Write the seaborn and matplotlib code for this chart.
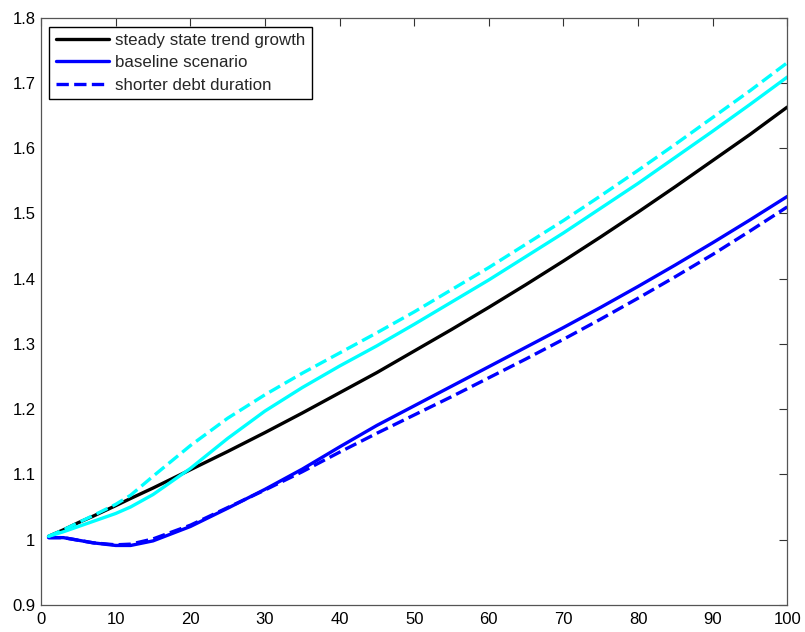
import matplotlib
matplotlib.use("Agg")
import matplotlib.pyplot as plt
import seaborn as sns

periods = [1, 3, 5, 7, 10, 12, 15, 20, 25, 30, 35, 40, 45, 50, 55, 60, 65, 70, 75, 80, 85, 90, 95, 100]

steady_state = [1.005, 1.015, 1.026, 1.036, 1.052, 1.063, 1.079, 1.107, 1.135, 1.164, 1.194, 1.225,
                1.256, 1.289, 1.322, 1.356, 1.391, 1.427, 1.464, 1.502, 1.541, 1.581, 1.621, 1.663]
baseline = [1.003, 1.003, 0.999, 0.995, 0.991, 0.991, 0.998, 1.020, 1.048, 1.077, 1.108, 1.142,
            1.175, 1.205, 1.235, 1.265, 1.295, 1.325, 1.356, 1.388, 1.421, 1.455, 1.490, 1.526]
shorter_duration = [1.003, 1.003, 0.999, 0.995, 0.992, 0.993, 1.001, 1.022, 1.049, 1.076, 1.104, 1.134,
                    1.163, 1.191, 1.219, 1.248, 1.277, 1.307, 1.338, 1.370, 1.403, 1.437, 1.473, 1.510]
baseline_alt = [1.005, 1.012, 1.020, 1.028, 1.040, 1.050, 1.069, 1.109, 1.155, 1.197, 1.233, 1.266,
                1.297, 1.330, 1.364, 1.398, 1.434, 1.470, 1.508, 1.546, 1.586, 1.626, 1.667, 1.709]
shorter_alt = [1.005, 1.015, 1.026, 1.037, 1.054, 1.068, 1.097, 1.144, 1.186, 1.222, 1.255, 1.286,
               1.317, 1.349, 1.383, 1.417, 1.453, 1.489, 1.527, 1.566, 1.606, 1.647, 1.688, 1.731]

legend_labels = ["steady state trend growth", "baseline scenario", "shorter debt duration"]
x_ticks = list(range(0, 101, 10))
y_ticks = [0.9, 1.0, 1.1, 1.2, 1.3, 1.4, 1.5, 1.6, 1.7, 1.8]
y_tick_labels = ["0.9", "1", "1.1", "1.2", "1.3", "1.4", "1.5", "1.6", "1.7", "1.8"]

sns.set_style("white")
plt.rcParams["font.family"] = ["Liberation Sans", "DejaVu Sans"]

fig = plt.figure(figsize=(8.05, 6.32), dpi=100)
ax = fig.add_axes([0.051, 0.043, 0.927, 0.929])

lw = 2.4
sns.lineplot(x=periods, y=steady_state, ax=ax, color="black", lw=lw, label=legend_labels[0])
sns.lineplot(x=periods, y=baseline, ax=ax, color="#0000ff", lw=lw, label=legend_labels[1])
sns.lineplot(x=periods, y=shorter_duration, ax=ax, color="#0000ff", lw=lw, linestyle="--",
             label=legend_labels[2])
sns.lineplot(x=periods, y=baseline_alt, ax=ax, color="#00ffff", lw=lw, label="_nolegend_")
sns.lineplot(x=periods, y=shorter_alt, ax=ax, color="#00ffff", lw=lw, linestyle="--",
             label="_nolegend_")

ax.set_xlim(0, 100)
ax.set_ylim(0.9, 1.8)
ax.set_xticks(x_ticks)
ax.set_xticklabels([str(v) for v in x_ticks])
ax.set_yticks(y_ticks)
ax.set_yticklabels(y_tick_labels)
ax.tick_params(direction="in", length=6, width=0.8, top=True, right=True,
               labelsize=12, colors="#333333", labelcolor="black", pad=5)
ax.tick_params(axis="y", pad=4)
for s in ax.spines.values():
    s.set_visible(True)
    s.set_color("#555555")
    s.set_linewidth(0.9)
ax.set_xlabel("")
ax.set_ylabel("")

leg = ax.legend(loc="upper left", bbox_to_anchor=(0.011, 0.985), fontsize=12.2, frameon=True,
                fancybox=False, edgecolor="black", framealpha=1, handlelength=3.1,
                handletextpad=0.4, borderpad=0.4, labelspacing=0.42, borderaxespad=0.0)
leg.get_frame().set_linewidth(1.0)

fig.savefig("out.png", dpi=100)
